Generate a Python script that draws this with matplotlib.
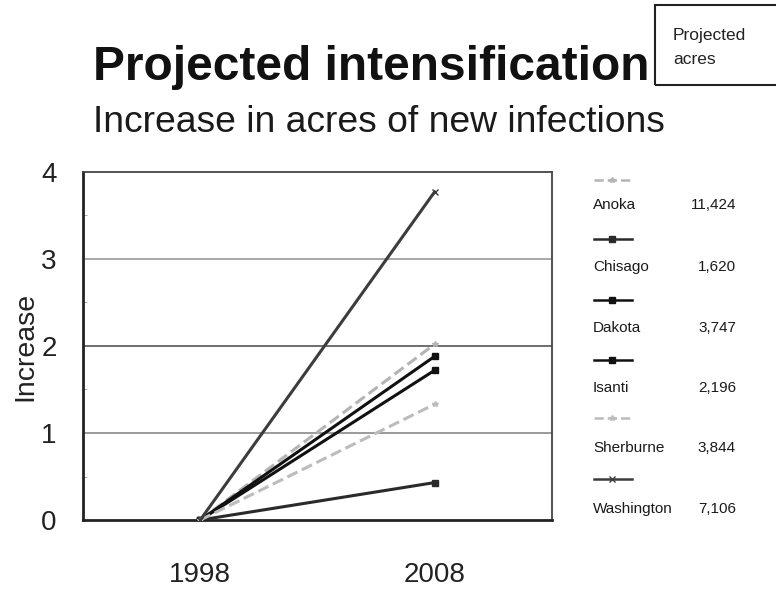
import matplotlib
matplotlib.use("Agg")
import matplotlib.pyplot as plt
from matplotlib.lines import Line2D
from matplotlib.patches import Rectangle

plt.rcParams['font.family'] = ['Liberation Sans', 'DejaVu Sans']

years = ["1998", "2008"]
counties = ["Anoka", "Chisago", "Dakota", "Isanti", "Sherburne", "Washington"]
projected_acres = ["11,424", "1,620", "3,747", "2,196", "3,844", "7,106"]
increase_1998 = [0, 0, 0, 0, 0, 0]
increase_2008 = [2.02, 0.43, 1.88, 1.72, 1.33, 3.77]

colors = ["#b4b4b4", "#2a2a2a", "#111111", "#111111", "#bcbcbc", "#3c3c3c"]
styles = ["--", "-", "-", "-", "--", "-"]
markers = ["*", "s", "s", "s", "*", "x"]

W, H = 776, 592
fig = plt.figure(figsize=(W / 100, H / 100), dpi=100)
ax = fig.add_axes([0.107, 0.1216, 0.604, 0.588])

xs = range(len(years))
for i, name in enumerate(counties):
    ax.plot(xs, [increase_1998[i], increase_2008[i]], color=colors[i],
            linestyle=styles[i], linewidth=2.2, marker=markers[i],
            markersize=4, zorder=3)

ax.set_xlim(-0.5, 1.5)
ax.set_ylim(0, 4)
ax.set_yticks([0, 1, 2, 3, 4])
ax.set_xticks(list(xs))
ax.set_xticklabels(years)
ax.tick_params(axis='x', length=0, pad=30, labelsize=20, colors="#222222")
ax.tick_params(axis='y', length=0, pad=19, labelsize=20, colors="#222222")
ax.set_yticks([0.5, 1.5, 2.5, 3.5], minor=True)
ax.tick_params(axis='y', which='minor', length=3, direction='in', color="#999999")
ax.set_ylabel("Increase", fontsize=20.5, color="#222222", labelpad=2)

for y, c in zip([1, 2, 3], ["#8a8a8a", "#555555", "#9a9a9a"]):
    ax.axhline(y, color=c, linewidth=1.2, zorder=1)

for side in ["left", "bottom"]:
    ax.spines[side].set_linewidth(2.0)
    ax.spines[side].set_color("#222222")
for side in ["top", "right"]:
    ax.spines[side].set_linewidth(1.3)
    ax.spines[side].set_color("#444444")

# Titles
fig.text(93 / W, 1 - 80 / H, "Projected intensification", fontsize=34.5,
         fontweight='bold', color="#111111", va='baseline')
fig.text(93 / W, 1 - 132 / H, "Increase in acres of new infections", fontsize=26.8,
         color="#1a1a1a", va='baseline')

# Header box at the top right
box = Rectangle((655 / W, 1 - 85 / H), 140 / W, 80 / H, transform=fig.transFigure,
                fill=False, edgecolor="#222222", linewidth=1.5)
fig.add_artist(box)
fig.text(673 / W, 1 - 40 / H, "Projected", fontsize=12.5, color="#222222",
         va='baseline')
fig.text(673 / W, 1 - 64 / H, "acres", fontsize=12.5, color="#222222",
         va='baseline')

# Legend: line sample above each county name and its projected acres
sample_y = [180, 239, 300, 360, 418, 479]
label_y = [209, 271, 332, 392, 452, 513]
for i, name in enumerate(counties):
    yy = 1 - sample_y[i] / H
    fig.add_artist(Line2D([594 / W, 632 / W], [yy, yy], transform=fig.transFigure,
                          color=colors[i], linestyle=styles[i], linewidth=1.8))
    fig.add_artist(Line2D([612 / W], [yy], transform=fig.transFigure,
                          color=colors[i], marker=markers[i], markersize=4,
                          linestyle='none'))
    ly = 1 - label_y[i] / H
    fig.text(593 / W, ly, name, fontsize=11, color="#1a1a1a", va='baseline')
    fig.text(736 / W, ly, projected_acres[i], fontsize=11, color="#1a1a1a",
             va='baseline', ha='right')

fig.savefig("out.png", dpi=100, facecolor="white")
